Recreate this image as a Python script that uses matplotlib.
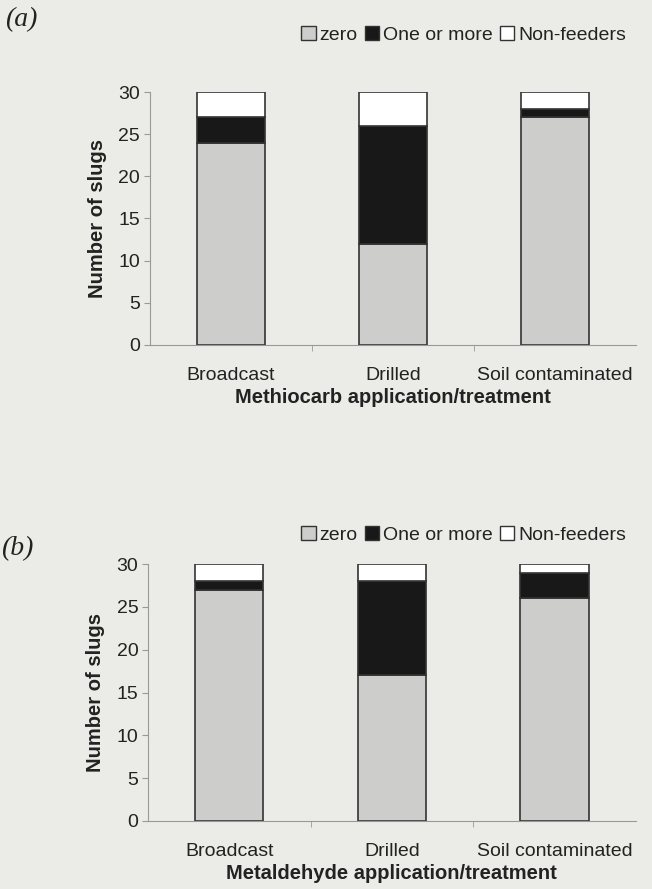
import matplotlib.pyplot as plt
import numpy as np
from matplotlib.patches import Patch

plt.rcParams['font.family'] = ['Liberation Sans', 'DejaVu Sans']
plt.rcParams['text.color'] = '#222222'
plt.rcParams['axes.labelcolor'] = '#222222'
plt.rcParams['xtick.labelcolor'] = '#222222'
plt.rcParams['ytick.labelcolor'] = '#222222'

categories = ['Broadcast', 'Drilled', 'Soil contaminated']
series_names = ['zero', 'One or more', 'Non-feeders']

# panel (a) Methiocarb
a_zero = [24, 12, 27]
a_one = [3, 14, 1]
a_non = [3, 4, 2]

# panel (b) Metaldehyde
b_zero = [27, 17, 26]
b_one = [1, 11, 3]
b_non = [2, 2, 1]

bg = '#ebebe7'
colors = ['#cdcdcb', '#181818', '#ffffff']

fig = plt.figure(figsize=(6.52, 8.89), dpi=100, facecolor=bg)


def panel(ax, zero, one, non, xlabel, legend_y):
    ax.set_facecolor(bg)
    x = np.arange(len(categories))
    w = 0.42
    bottom = np.zeros(len(categories))
    for vals, c in zip([zero, one, non], colors):
        ax.bar(x, vals, w, bottom=bottom, color=c, edgecolor='#333333', linewidth=1.2)
        bottom += np.array(vals)
    ax.set_xlim(-0.5, 2.5)
    ax.set_ylim(0, 30)
    ax.set_yticks(range(0, 31, 5))
    ax.set_xticks(x)
    ax.set_xticklabels(categories, fontsize=14)
    ax.set_xticks([0.5, 1.5], minor=True)
    ax.tick_params(axis='x', which='major', length=0, pad=16)
    ax.tick_params(axis='x', which='minor', length=4, color='#999999')
    ax.tick_params(axis='y', labelsize=14, length=4, color='#999999', pad=3)
    for s in ['top', 'right']:
        ax.spines[s].set_visible(False)
    for s in ['left', 'bottom']:
        ax.spines[s].set_color('#999999')
    ax.set_ylabel('Number of slugs', fontsize=14.5, fontweight='bold', labelpad=8)
    ax.set_xlabel(xlabel, fontsize=14.5, fontweight='bold', labelpad=3)
    handles = [Patch(facecolor=c, edgecolor='#333333', linewidth=1) for c in colors]
    fig.legend(handles, series_names, ncol=3, frameon=False, loc='center right',
               bbox_to_anchor=(0.972, legend_y), fontsize=14, handlelength=0.75,
               handleheight=0.75, handletextpad=0.2, columnspacing=0.35, borderaxespad=0)


ax1 = fig.add_axes([0.230, 0.612, 0.745, 0.2845])
panel(ax1, a_zero, a_one, a_non, 'Methiocarb application/treatment', 0.9606)

ax2 = fig.add_axes([0.227, 0.0765, 0.748, 0.289])
panel(ax2, b_zero, b_one, b_non, 'Metaldehyde application/treatment', 0.398)

fig.text(0.008, 0.978, '(a)', fontsize=20, family='Liberation Serif', style='italic', va='center')
fig.text(0.002, 0.383, '(b)', fontsize=20, family='Liberation Serif', style='italic', va='center')

fig.savefig('out.png', dpi=100, facecolor=bg)
